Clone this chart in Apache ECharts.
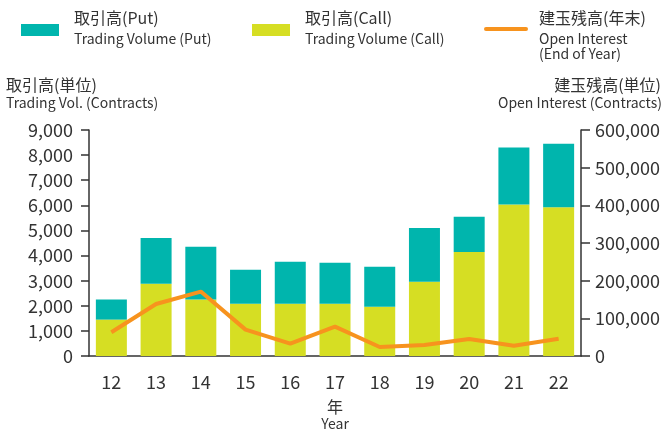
<!DOCTYPE html>
<html>
<head>
<meta charset="utf-8">
<script src="https://cdn.jsdelivr.net/npm/echarts@6/dist/echarts.min.js"></script>
<style>
    html, body { margin: 0; padding: 0; background: #fff; }
    #chart-container { width: 665px; height: 430px; }
</style>
</head>
<body>
<div id="chart-container"></div>
<script>
var years = ['12', '13', '14', '15', '16', '17', '18', '19', '20', '21', '22'];
var callVolume = [1450, 2880, 2250, 2080, 2080, 2080, 1960, 2960, 4140, 6030, 5920];
var putVolume = [800, 1820, 2100, 1350, 1670, 1630, 1590, 2140, 1410, 2270, 2530];
var openInterest = [63000, 138000, 171000, 70000, 33000, 78000, 24000, 29000, 45000, 27000, 46000];

(function () {
    var domChart = document.getElementById('chart-container');
    var ioChart = echarts.init(domChart);
    var font = '"Noto Sans CJK JP", "Noto Sans", sans-serif';
    var textColor = '#333';
    var putColor = '#00b5ad';
    var callColor = '#d6de23';
    var lineColor = '#f7931e';

    function label(x, y, text, size, align) {
        return {
            type: 'text', x: x, y: y,
            style: {
                text: text, font: size + 'px ' + font, fill: textColor,
                align: align || 'left', verticalAlign: 'middle'
            }
        };
    }

    // 凡例と軸タイトル
    var graphics = [
        { type: 'rect', shape: { x: 21, y: 24, width: 38, height: 12 }, style: { fill: putColor } },
        label(74, 18, '取引高(Put)', 16),
        label(74, 39, 'Trading Volume (Put)', 14),
        { type: 'rect', shape: { x: 252, y: 24, width: 38, height: 12 }, style: { fill: callColor } },
        label(305, 18, '取引高(Call)', 16),
        label(305, 39, 'Trading Volume (Call)', 14),
        { type: 'line', shape: { x1: 486, y1: 29, x2: 526, y2: 29 }, style: { stroke: lineColor, lineWidth: 4, lineCap: 'round' } },
        label(539, 18, '建玉残高(年末)', 16),
        label(539, 39, 'Open Interest', 14),
        label(539, 54, '(End of Year)', 14),
        label(6, 85, '取引高(単位)', 16),
        label(6, 103, 'Trading Vol. (Contracts)', 14),
        label(661, 85, '建玉残高(単位)', 16, 'right'),
        label(662, 103, 'Open Interest (Contracts)', 14, 'right')
    ];

    var axisLineStyle = { color: textColor, width: 1.5 };
    var numFormat = function (v) { return v.toLocaleString('en-US'); };

    var chartOption = {
        backgroundColor: '#fff',
        animation: false,
        textStyle: { fontFamily: font },
        grid: { left: 89, right: 84, top: 130, bottom: 74, outerBoundsMode: 'none', containLabel: false },
        graphic: graphics,
        xAxis: [
            {
                type: 'category',
                data: years,
                name: '{a|年}\n{b|Year}',
                nameLocation: 'middle',
                nameGap: 42,
                nameTextStyle: {
                    rich: {
                        a: { fontSize: 16, lineHeight: 18, color: textColor, fontFamily: font },
                        b: { fontSize: 14, lineHeight: 16, color: textColor, fontFamily: font }
                    }
                },
                axisLine: { lineStyle: axisLineStyle },
                axisTick: { length: 7, lineStyle: axisLineStyle },
                axisLabel: { fontSize: 18, color: textColor, margin: 17 }
            }
        ],
        yAxis: [
            {
                type: 'value',
                min: 0,
                max: 9000,
                interval: 1000,
                axisLine: { show: true, lineStyle: axisLineStyle },
                axisTick: { show: true, length: 8, lineStyle: axisLineStyle },
                splitLine: { show: false },
                axisLabel: { fontSize: 18, color: textColor, margin: 16, formatter: numFormat }
            },
            {
                type: 'value',
                min: 0,
                max: 600000,
                interval: 100000,
                position: 'right',
                axisLine: { show: true, lineStyle: axisLineStyle },
                axisTick: { show: true, length: 9, lineStyle: axisLineStyle },
                splitLine: { show: false },
                axisLabel: { fontSize: 18, color: textColor, margin: 14, formatter: numFormat }
            }
        ],
        series: [
            {
                name: '取引高(Call)',
                type: 'bar',
                stack: 'vol',
                barWidth: 31,
                itemStyle: { color: callColor },
                data: callVolume
            },
            {
                name: '取引高(Put)',
                type: 'bar',
                stack: 'vol',
                barWidth: 31,
                itemStyle: { color: putColor },
                data: putVolume
            },
            {
                name: '建玉残高(年末)',
                type: 'line',
                yAxisIndex: 1,
                symbol: 'none',
                lineStyle: { color: lineColor, width: 4 },
                data: openInterest
            }
        ]
    };
    ioChart.setOption(chartOption);
})();
</script>
</body>
</html>
